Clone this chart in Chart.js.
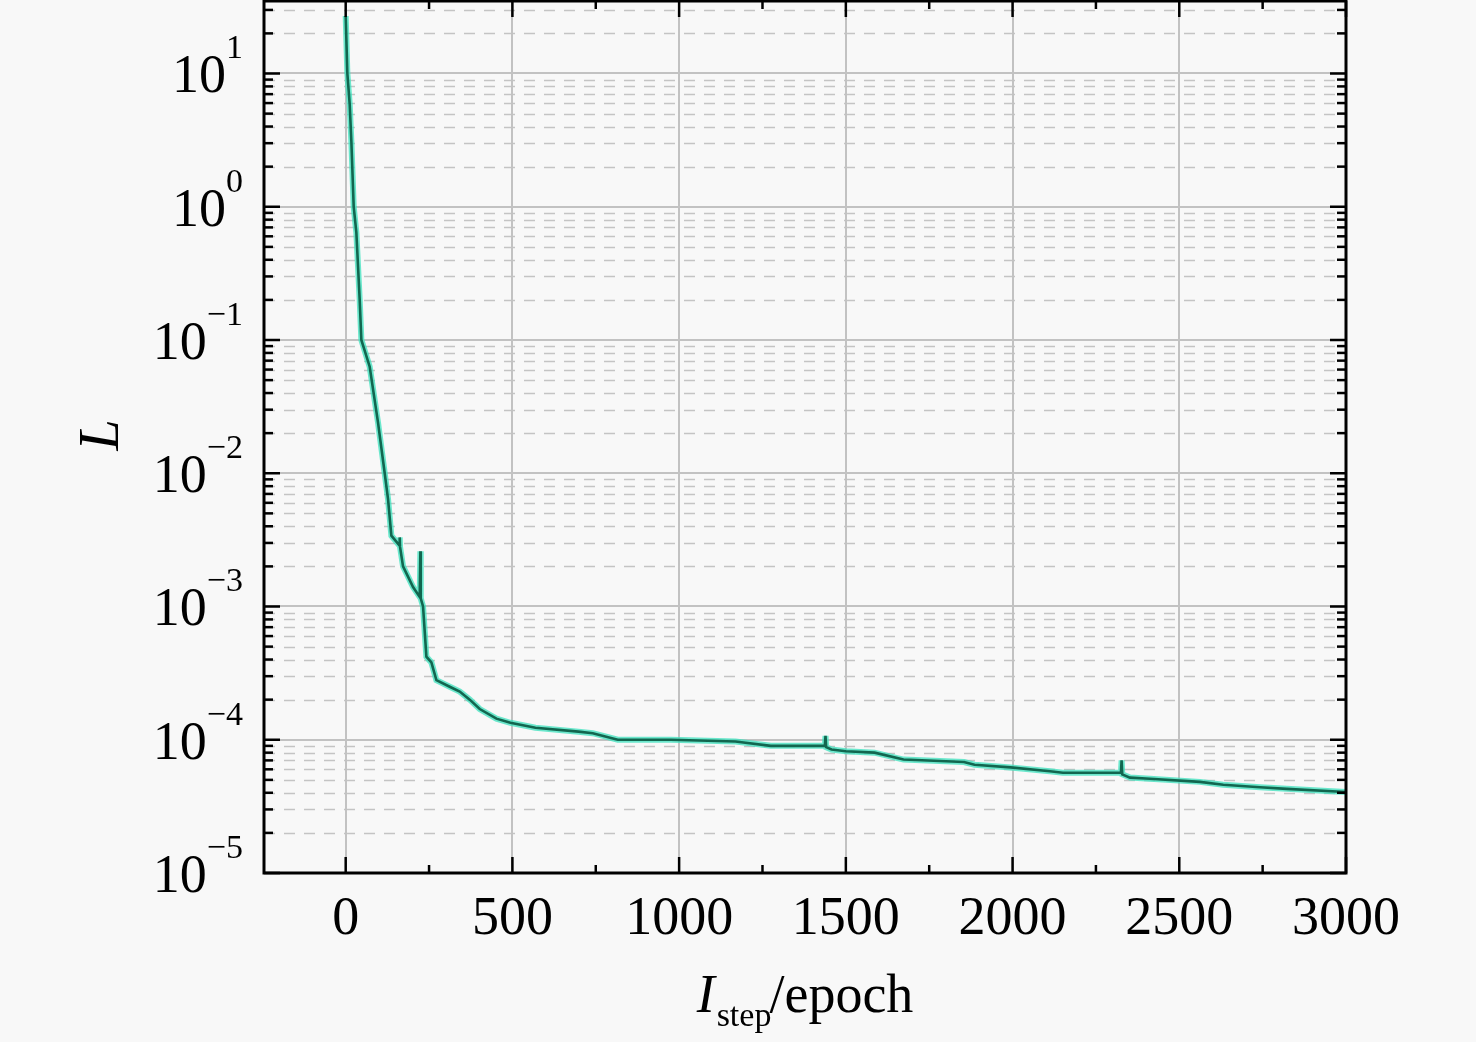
<!DOCTYPE html>
<html>
<head>
<meta charset="utf-8">
<script src="https://cdn.jsdelivr.net/npm/chart.js@4.4.1/dist/chart.umd.min.js"></script>
<style>
  html, body { margin: 0; padding: 0; background: #f8f8f8; }
  #wrap { width: 1476px; height: 1042px; }
</style>
</head>
<body>
<div id="wrap"><canvas id="chart-1" width="1476" height="1042"></canvas></div>
<script>
// training loss
const steps = [0, 5, 12, 17, 24, 32, 42, 47, 72, 97, 117, 127, 137, 160, 162, 163, 172, 202, 222, 224, 225,
  232, 242, 257, 272, 312, 342, 372, 402, 452, 494, 569, 698, 741, 816, 975, 1169, 1275, 1437, 1439, 1441,
  1457, 1500, 1586, 1673, 1854, 1886, 1994, 2112, 2151, 2325, 2327, 2329, 2352, 2412, 2562, 2632, 2742, 2822, 3000];
const loss = [27, 10, 5.9, 3.1, 1.0, 0.64, 0.2, 0.1, 0.063, 0.024, 0.010, 0.0064, 0.0034, 0.0029, 0.0033, 0.0028,
  0.0020, 0.0014, 0.00118, 0.0026, 0.00115, 0.0010, 0.00042, 0.00038, 0.00028, 0.00025, 0.00023, 0.00020,
  0.00017, 0.000144, 0.000134, 0.000123, 0.000115, 0.000112, 0.000100, 0.000100, 0.000097, 0.000090,
  0.000090, 0.000107, 0.000088, 0.0000845, 0.000082, 0.000080, 0.000071, 0.000068, 0.000065, 0.000062,
  0.000058, 0.0000565, 0.0000565, 0.000070, 0.000055, 0.000052, 0.000051, 0.0000483, 0.0000459,
  0.000044, 0.0000428, 0.0000405];

const xMajor = [0, 500, 1000, 1500, 2000, 2500, 3000];
const xMinor = [250, 750, 1250, 1750, 2250, 2750];
const yDecades = [-5, -4, -3, -2, -1, 0, 1];

const serif = '"Liberation Serif", "DejaVu Serif", serif';

const pts = steps.map((s, i) => ({ x: s, y: loss[i] }));

// grid, frame, ticks and the labels with super/subscripts
const decor = {
  id: 'decor',
  beforeDraw(chart) {
    const c = chart.ctx;
    c.save();
    c.fillStyle = '#f8f8f8';
    c.fillRect(0, 0, chart.width, chart.height);
    c.restore();
  },
  beforeDatasetsDraw(chart) {
    const c = chart.ctx, a = chart.chartArea;
    const xs = chart.scales.x, ys = chart.scales.y;
    c.save();
    c.beginPath();
    c.rect(a.left, a.top, a.right - a.left, a.bottom - a.top);
    c.clip();
    // minor horizontal, dashed
    c.strokeStyle = '#c4c4c4';
    c.lineWidth = 1.5;
    c.setLineDash([11, 9]);
    yDecades.forEach(d => {
      for (let k = 2; k <= 9; k++) {
        const v = k * Math.pow(10, d);
        if (v > ys.max) continue;
        const y = Math.round(ys.getPixelForValue(v)) + 0.5;
        c.beginPath(); c.moveTo(a.left, y); c.lineTo(a.right, y); c.stroke();
      }
    });
    c.setLineDash([]);
    c.strokeStyle = '#c2c2c2';
    c.lineWidth = 2;
    yDecades.forEach(d => {
      const y = Math.round(ys.getPixelForValue(Math.pow(10, d)));
      c.beginPath(); c.moveTo(a.left, y); c.lineTo(a.right, y); c.stroke();
    });
    xMajor.forEach(v => {
      const x = Math.round(xs.getPixelForValue(v));
      c.beginPath(); c.moveTo(x, a.top); c.lineTo(x, a.bottom); c.stroke();
    });
    c.restore();
  },
  afterDraw(chart) {
    const c = chart.ctx, a = chart.chartArea;
    const xs = chart.scales.x, ys = chart.scales.y;
    c.save();
    c.strokeStyle = '#000';
    c.lineWidth = 3;
    c.strokeRect(a.left, a.top, a.right - a.left, a.bottom - a.top);
    c.lineWidth = 2.5;
    const tick = (x1, y1, x2, y2) => { c.beginPath(); c.moveTo(x1, y1); c.lineTo(x2, y2); c.stroke(); };
    xMajor.forEach(v => {
      const x = xs.getPixelForValue(v);
      tick(x, a.bottom, x, a.bottom - 16);
      tick(x, a.top, x, a.top + 16);
    });
    xMinor.forEach(v => {
      const x = xs.getPixelForValue(v);
      tick(x, a.bottom, x, a.bottom - 8);
      tick(x, a.top, x, a.top + 8);
    });
    yDecades.forEach(d => {
      const y = ys.getPixelForValue(Math.pow(10, d));
      tick(a.left, y, a.left + 16, y);
      tick(a.right, y, a.right - 16, y);
      for (let k = 2; k <= 9; k++) {
        const v = k * Math.pow(10, d);
        if (v > ys.max) continue;
        const yy = ys.getPixelForValue(v);
        tick(a.left, yy, a.left + 9, yy);
        tick(a.right, yy, a.right - 9, yy);
      }
    });

    // y tick labels 10^n
    c.fillStyle = '#000';
    c.textBaseline = 'alphabetic';
    c.textAlign = 'left';
    const right = 243;
    yDecades.forEach(d => {
      const y = ys.getPixelForValue(Math.pow(10, d));
      const ex = d < 0 ? '\u2212' + (-d) : String(d);
      c.font = '34px ' + serif;
      const ew = c.measureText(ex).width;
      c.fillText(ex, right - ew, y - 15);
      c.font = '54px ' + serif;
      const bw = c.measureText('10').width;
      c.fillText('10', right - ew - bw, y + 19);
    });

    // x title: I_step/epoch
    c.font = 'italic 54px ' + serif;
    const wI = c.measureText('I').width;
    c.font = '34px ' + serif;
    const wS = c.measureText('step').width;
    c.font = '54px ' + serif;
    const wE = c.measureText('/epoch').width;
    let x0 = 805 - (wI + wS + wE) / 2;
    c.font = 'italic 54px ' + serif;
    c.fillText('I', x0, 1012);
    c.font = '34px ' + serif;
    c.fillText('step', x0 + wI + 2, 1026);
    c.font = '54px ' + serif;
    c.fillText('/epoch', x0 + wI + wS, 1012);

    // y title: L
    c.translate(118, 435);
    c.rotate(-Math.PI / 2);
    c.textAlign = 'center';
    c.font = 'italic 56px ' + serif;
    c.fillText('L', 0, 0);
    c.restore();
  }
};

const ctx1 = document.getElementById('chart-1').getContext('2d');
// first dataset is drawn last, so the dark core goes first
const chart1 = new Chart(ctx1, {
  type: 'line',
  data: {
    datasets: [
      {
        data: pts,
        borderColor: '#12664f',
        borderWidth: 2.6,
        pointRadius: 0,
        tension: 0
      },
      {
        data: pts,
        borderColor: 'rgba(60, 225, 190, 0.75)',
        borderWidth: 6,
        pointRadius: 0,
        tension: 0
      }
    ]
  },
  options: {
    responsive: false,
    animation: false,
    events: [],
    layout: { padding: { top: 1, right: 130, left: 0, bottom: 0 } },
    plugins: { legend: { display: false }, tooltip: { enabled: false } },
    scales: {
      x: {
        type: 'linear',
        min: -245,
        max: 3000,
        afterFit: s => { s.height = 169; },
        afterBuildTicks: s => { s.ticks = xMajor.map(v => ({ value: v })); },
        grid: { display: false, drawTicks: false },
        border: { display: false },
        ticks: {
          autoSkip: false,
          maxRotation: 0,
          padding: 14,
          color: '#000',
          font: { family: serif, size: 54 },
          callback: v => String(v)
        }
      },
      y: {
        type: 'logarithmic',
        min: 1e-5,
        max: 35,
        afterFit: s => { s.width = 264; },
        grid: { display: false, drawTicks: false },
        border: { display: false },
        ticks: { display: false }
      }
    }
  },
  plugins: [decor]
});
</script>
</body>
</html>
